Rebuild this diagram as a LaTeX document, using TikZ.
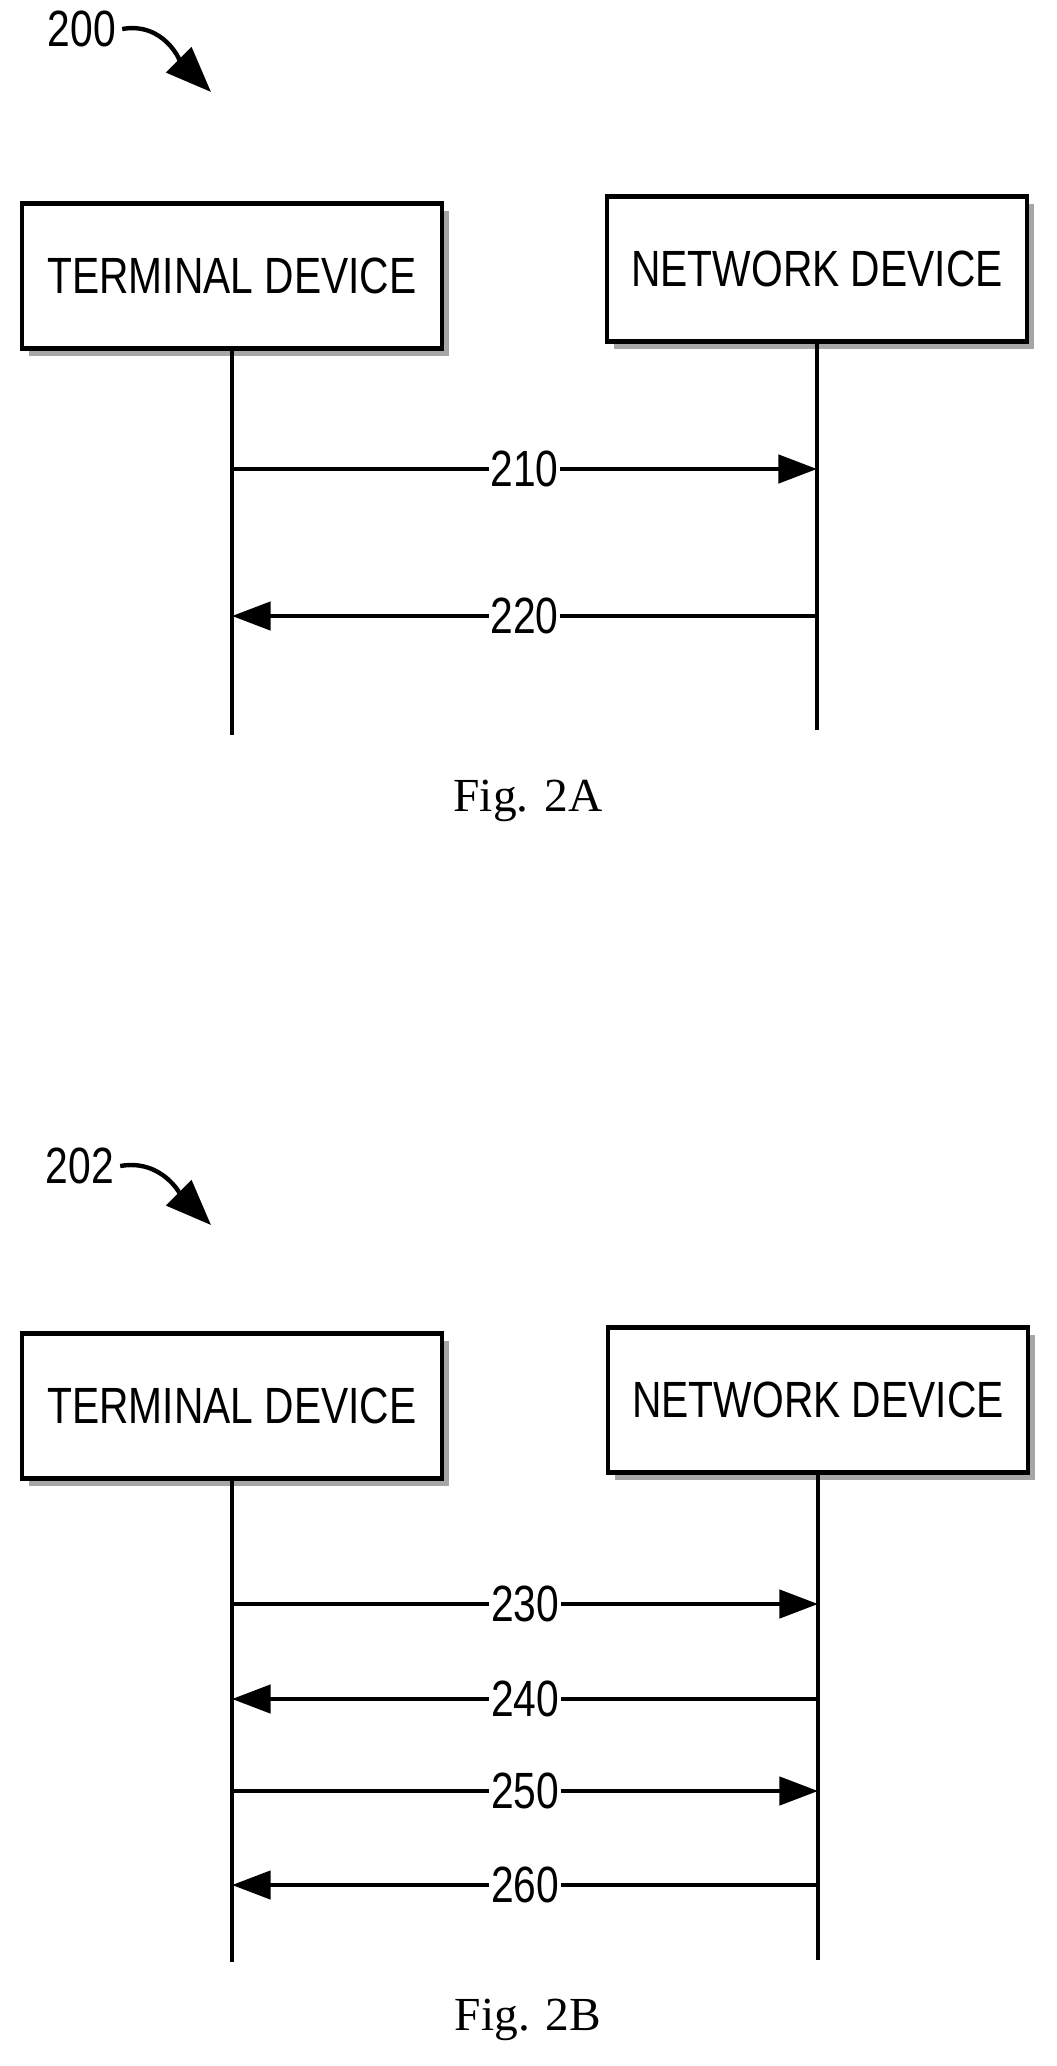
\documentclass[tikz,border=0pt]{standalone}
\usepackage{fontspec}
\setmainfont{Liberation Serif}
\newfontfamily\narrowsans[FakeStretch=0.8]{Liberation Sans}
\usetikzlibrary{arrows.meta, positioning, shadows}

\tikzstyle{device} = [rectangle, draw, line width=2.5pt, fill=white, minimum width=8.4cm, minimum height=2.9cm, font=\narrowsans\fontsize{29}{33}\selectfont, drop shadow={shadow xshift=4pt, shadow yshift=-4pt, fill=gray!70, opacity=1}]
\tikzstyle{lifeline} = [line width=2.5pt]
\tikzstyle{msg} = [line width=2.5pt, -{Triangle[length=22pt, width=16pt]}]
\tikzstyle{msglabel} = [fill=white, inner sep=1pt, font=\narrowsans\fontsize{29}{33}\selectfont]
\tikzstyle{refnum} = [font=\narrowsans\fontsize{29}{33}\selectfont]
\tikzstyle{refarrow} = [line width=2.5pt, -{Triangle[length=26pt, width=20pt]}]
\tikzstyle{caption} = [font=\fontsize{27}{31}\selectfont]

\begin{document}
\begin{tikzpicture}[x=0.02cm, y=-0.02cm]
\useasboundingbox (0,0) rectangle (1057,2066);

% Fig. 2A
\node[refnum] (r200) at (82,29) {200};
\coordinate (r200end) at (211,92);
\draw[refarrow] (r200.east) to[out=10, in=135] (r200end);

\node[device] (term1) at (232,276) {TERMINAL DEVICE};
\node[device] (net1) at (817,269) {NETWORK DEVICE};
\coordinate (term1end) at (232,735);
\coordinate (net1end) at (817,730);
\draw[lifeline] (term1.south) -- (term1end);
\draw[lifeline] (net1.south) -- (net1end);

\coordinate (a210s) at (232,469);
\coordinate (a210e) at (817,469);
\coordinate (a220s) at (817,616);
\coordinate (a220e) at (232,616);
\draw[msg] (a210s) -- node[msglabel] {210} (a210e);
\draw[msg] (a220s) -- node[msglabel] {220} (a220e);

\node[caption] (fig2a) at (528,801) {Fig. 2A};

% Fig. 2B
\node[refnum] (r202) at (80,1166) {202};
\coordinate (r202end) at (211,1225);
\draw[refarrow] (r202.east) to[out=10, in=135] (r202end);

\node[device] (term2) at (232,1406) {TERMINAL DEVICE};
\node[device] (net2) at (818,1400) {NETWORK DEVICE};
\coordinate (term2end) at (232,1962);
\coordinate (net2end) at (818,1960);
\draw[lifeline] (term2.south) -- (term2end);
\draw[lifeline] (net2.south) -- (net2end);

\coordinate (a230s) at (232,1604);
\coordinate (a230e) at (818,1604);
\coordinate (a240s) at (818,1699);
\coordinate (a240e) at (232,1699);
\coordinate (a250s) at (232,1791);
\coordinate (a250e) at (818,1791);
\coordinate (a260s) at (818,1885);
\coordinate (a260e) at (232,1885);
\draw[msg] (a230s) -- node[msglabel] {230} (a230e);
\draw[msg] (a240s) -- node[msglabel] {240} (a240e);
\draw[msg] (a250s) -- node[msglabel] {250} (a250e);
\draw[msg] (a260s) -- node[msglabel] {260} (a260e);

\node[caption] (fig2b) at (528,2020) {Fig. 2B};

\end{tikzpicture}
\end{document}
